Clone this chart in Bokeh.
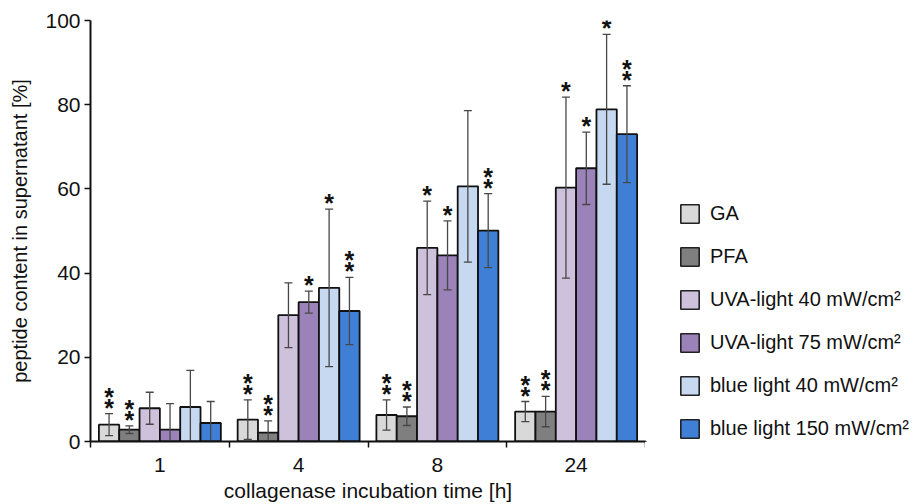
from bokeh.plotting import figure
from bokeh.layouts import row
from bokeh.models import ColumnDataSource, FixedTicker, Legend, LegendItem, Range1d
from bokeh.core.properties import value
from bokeh.embed import file_html
from bokeh.resources import INLINE

# ---- data ----
times = ["1", "4", "8", "24"]
series = ["GA", "PFA", "UVA-light 40 mW/cm²", "UVA-light 75 mW/cm²",
          "blue light 40 mW/cm²", "blue light 150 mW/cm²"]
colors = ["#d9d9d9", "#7f7f7f", "#cdc1dc", "#9b82b9", "#c6d9f1", "#3f80d6"]

ga = [4.0, 5.2, 6.3, 7.1]
ga_err = [2.6, 4.7, 3.6, 2.4]
pfa = [2.8, 2.1, 6.0, 7.1]
pfa_err = [0.9, 2.8, 2.2, 3.6]
uva40 = [7.9, 30.0, 46.0, 60.3]
uva40_err = [3.8, 7.7, 11.1, 21.5]
uva75 = [2.8, 33.1, 44.2, 64.9]
uva75_err = [6.2, 2.6, 8.2, 8.6]
blue40 = [8.2, 36.5, 60.6, 78.9]
blue40_err = [8.7, 18.7, 18.0, 17.8]
blue150 = [4.4, 31.0, 50.1, 73.0]
blue150_err = [5.1, 8.0, 8.8, 11.5]

ga_sig = ["**", "**", "**", "**"]
pfa_sig = ["**", "**", "**", "**"]
uva40_sig = ["", "", "*", "*"]
uva75_sig = ["", "*", "*", "*"]
blue40_sig = ["", "*", "", "*"]
blue150_sig = ["", "**", "**", "**"]

yticks = [0, 20, 40, 60, 80, 100]

values = [ga, pfa, uva40, uva75, blue40, blue150]
errors = [ga_err, pfa_err, uva40_err, uva75_err, blue40_err, blue150_err]
sigs = [ga_sig, pfa_sig, uva40_sig, uva75_sig, blue40_sig, blue150_sig]

FONT = "Liberation Sans"
TXT = "#111111"
EDGE = "#111111"
ERR = "#474747"

p = figure(width=645, height=504, x_range=Range1d(0.5, 4.5), y_range=Range1d(0, 100),
           output_backend="svg", toolbar_location=None,
           min_border_left=90, min_border_right=0, min_border_top=20, min_border_bottom=59)
p.grid.visible = False
p.outline_line_color = None
p.background_fill_color = "white"
p.border_fill_color = "white"

bw = 0.1465
groups = list(range(1, len(times) + 1))
for i, name in enumerate(series):
    off = (i - 2.5) * bw
    xs = [g + off for g in groups]
    top = values[i]
    err = errors[i]
    src = ColumnDataSource(dict(x=xs, top=top,
                                lo=[t - e for t, e in zip(top, err)],
                                hi=[t + e for t, e in zip(top, err)]))
    p.vbar(x="x", top="top", bottom=0, width=bw, source=src,
           fill_color=colors[i], line_color=EDGE, line_width=1.8)
    p.segment(x0="x", y0="lo", x1="x", y1="hi", source=src, line_color=ERR, line_width=1.3)
    p.scatter(x="x", y="hi", source=src, marker="dash", size=8, line_color=ERR, line_width=1.3)
    p.scatter(x="x", y="lo", source=src, marker="dash", size=8, line_color=ERR, line_width=1.3)
    # significance stars
    s1x, s1y, s2x, s2y = [], [], [], []
    for x, h, s in zip(xs, src.data["hi"], sigs[i]):
        if len(s) >= 1:
            s1x.append(x); s1y.append(h)
        if len(s) >= 2:
            s2x.append(x); s2y.append(h)
    p.text(x=s1x, y=s1y, text=["*"] * len(s1x), text_align="center", text_baseline="middle",
           y_offset=-6, text_font=value(FONT), text_font_size="25px", text_font_style="bold",
           text_color=TXT)
    p.text(x=s2x, y=s2y, text=["*"] * len(s2x), text_align="center", text_baseline="middle",
           y_offset=-17, text_font=value(FONT), text_font_size="25px", text_font_style="bold",
           text_color=TXT)

# axes
xa = p.xaxis[0]
xa.ticker = FixedTicker(ticks=groups, minor_ticks=[0.5 + k for k in range(len(times) + 1)])
xa.major_label_overrides = {g: t for g, t in zip(groups, times)}
xa.major_tick_line_color = None
xa.major_tick_out = 0
xa.major_tick_in = 0
xa.minor_tick_out = 6
xa.minor_tick_in = 0
xa.minor_tick_line_color = EDGE
xa.minor_tick_line_width = 1.5
xa.axis_line_color = EDGE
xa.axis_line_width = 2
xa.major_label_standoff = 10
xa.axis_label = "collagenase incubation time [h]"
xa.axis_label_standoff = 4

ya = p.yaxis[0]
ya.ticker = FixedTicker(ticks=yticks, minor_ticks=[])
ya.major_tick_out = 6
ya.major_tick_in = 0
ya.major_tick_line_color = EDGE
ya.major_tick_line_width = 1.5
ya.axis_line_color = EDGE
ya.axis_line_width = 2
ya.major_label_standoff = 4
ya.axis_label = "peptide content in supernatant [%]"
ya.axis_label_standoff = 11

for ax in (xa, ya):
    ax.major_label_text_font = FONT
    ax.major_label_text_font_size = "21px"
    ax.major_label_text_color = TXT
    ax.axis_label_text_font = FONT
    ax.axis_label_text_font_style = "normal"
    ax.axis_label_text_color = TXT
xa.axis_label_text_font_size = "21px"
ya.axis_label_text_font_size = "20px"

# legend panel (frame is aligned with the main plot's frame by the row layout)
pl = figure(width=276, height=504, x_range=Range1d(0, 1), y_range=Range1d(0, 1),
            output_backend="svg", toolbar_location=None,
            min_border_left=0, min_border_right=0, min_border_top=20, min_border_bottom=59)
pl.axis.visible = False
pl.grid.visible = False
pl.outline_line_color = None
pl.background_fill_color = "white"
pl.border_fill_color = "white"
items = []
for i, name in enumerate(series):
    # off-screen proxy bar so the legend swatch carries the series' style
    r = pl.vbar(x=[-10], top=[-10], bottom=[-11], width=0.1,
                fill_color=colors[i], line_color="#222222", line_width=1.6)
    items.append(LegendItem(label=name, renderers=[r]))

legend = Legend(items=items, location=(33, 1), orientation="vertical")
legend.padding = 0
legend.margin = 0
legend.glyph_width = 23
legend.glyph_height = 23
legend.label_height = 23
legend.label_standoff = 9
legend.spacing = 20
legend.label_text_font = FONT
legend.label_text_font_size = "20px"
legend.label_text_color = TXT
legend.border_line_color = None
legend.background_fill_alpha = 0
pl.add_layout(legend, "center")

layout = row(p, pl)
open("out.html", "w").write(file_html(layout, INLINE))
